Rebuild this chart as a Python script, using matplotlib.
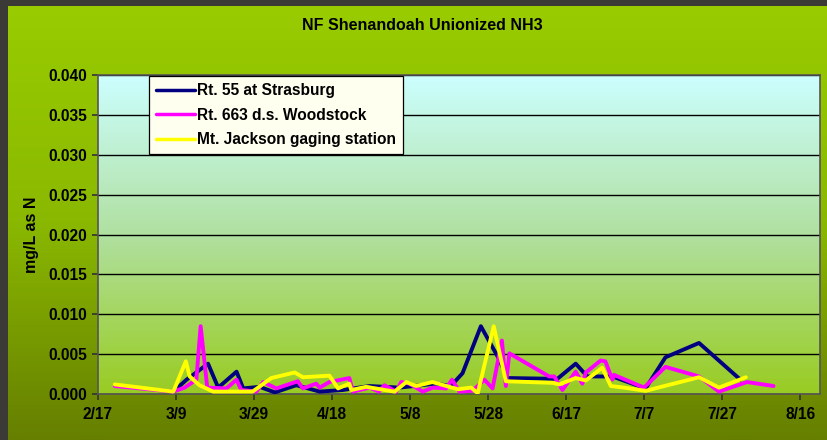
import numpy as np
import matplotlib
matplotlib.use("Agg")
import matplotlib.pyplot as plt
from matplotlib.colors import LinearSegmentedColormap

plt.rcParams['font.family'] = ['Liberation Sans', 'DejaVu Sans']
plt.rcParams['font.weight'] = 'bold'

title = "NF Shenandoah Unionized NH3"
ylabel = "mg/L as N"
tick_labels = ["2/17", "3/9", "3/29", "4/18", "5/8", "5/28", "6/17", "7/7", "7/27", "8/16"]
tick_days = [0, 20, 40, 60, 80, 100, 120, 140, 160, 180]

# days since 2/17
strasburg_days = [19.3, 22.7, 28.2, 30.8, 35.5, 37.2, 41.4, 45.3, 50.8, 56.8, 62.7, 69.6, 77.2,
                  86.6, 90.4, 93.4, 98.1, 102.4, 105.0, 117.7, 122.4, 125.4, 131.8, 140.3,
                  145.4, 154.0, 164.6]
strasburg_vals = [0.0003, 0.0018, 0.0038, 0.0008, 0.0028, 0.0007, 0.0009, 0.0002, 0.0011, 0.0003,
                  0.0005, 0.0010, 0.0008, 0.0013, 0.0010, 0.0026, 0.0085, 0.0047, 0.0020, 0.0019,
                  0.0038, 0.0022, 0.0022, 0.0007, 0.0046, 0.0064, 0.0018]

woodstock_days = [4.3, 19.3, 22.2, 25.2, 26.3, 28.0, 32.9, 35.5, 36.7, 40.6, 42.3, 45.7, 51.2,
                  52.5, 55.9, 56.8, 59.3, 64.4, 65.3, 69.6, 72.0, 73.4, 76.4, 77.7, 79.8, 83.2,
                  85.8, 89.2, 90.7, 92.6, 96.0, 99.0, 101.1, 103.5, 104.5, 105.4, 115.6, 116.9,
                  119.0, 122.4, 124.1, 125.0, 128.8, 130.0, 131.8, 132.2, 139.9, 145.4, 154.0,
                  159.1, 166.3, 173.1]
woodstock_vals = [0.0010, 0.0003, 0.0008, 0.0018, 0.0085, 0.0008, 0.0007, 0.0018, 0.0005, 0.0003,
                  0.0015, 0.0007, 0.0016, 0.0007, 0.0013, 0.0008, 0.0015, 0.0020, 0.0003, 0.0008,
                  0.0003, 0.0011, 0.0003, 0.0015, 0.0013, 0.0003, 0.0008, 0.0007, 0.0018, 0.0003,
                  0.0004, 0.0018, 0.0007, 0.0067, 0.0010, 0.0051, 0.0022, 0.0022, 0.0005, 0.0028,
                  0.0013, 0.0027, 0.0042, 0.0041, 0.0018, 0.0024, 0.0008, 0.0034, 0.0022, 0.0003,
                  0.0015, 0.0010]

jackson_days = [4.3, 19.3, 22.5, 23.5, 26.0, 29.5, 39.6, 44.4, 50.4, 52.5, 59.3, 61.5, 64.4,
                64.9, 68.7, 76.0, 79.0, 81.5, 85.7, 90.0, 92.2, 95.6, 97.3, 101.4, 104.5,
                116.5, 118.2, 122.4, 125.0, 129.2, 131.4, 134.8, 140.3, 154.0, 159.1, 166.0]
jackson_vals = [0.0012, 0.0003, 0.0041, 0.0022, 0.0011, 0.0003, 0.0003, 0.0020, 0.0027, 0.0021,
                0.0023, 0.0007, 0.0013, 0.0005, 0.0009, 0.0003, 0.0015, 0.0010, 0.0015, 0.0009,
                0.0006, 0.0008, 0.0001, 0.0085, 0.0016, 0.0014, 0.0012, 0.0020, 0.0017, 0.0033,
                0.0010, 0.0008, 0.0004, 0.0021, 0.0008, 0.0021]

series = [
    ("Rt. 55 at Strasburg", strasburg_days, strasburg_vals, "#000080"),
    ("Rt. 663 d.s. Woodstock", woodstock_days, woodstock_vals, "#FF00FF"),
    ("Mt. Jackson gaging station", jackson_days, jackson_vals, "#FFFF00"),
]

W, H = 828, 440
fig = plt.figure(figsize=(W / 100, H / 100), dpi=100)
fig.patch.set_facecolor("#3b3a36")

# green gradient background
bg = fig.add_axes([8 / W, 0, 1 - 8 / W, 1 - 6 / H], zorder=-10)
bg_cmap = LinearSegmentedColormap.from_list("bg", ["#99CC00", "#8AB800", "#667F00"])
bg.imshow(np.linspace(0, 1, 256).reshape(-1, 1), aspect="auto", cmap=bg_cmap,
          extent=[0, 1, 0, 1], origin="upper")
bg.set_axis_off()

ax = fig.add_axes([98 / W, 1 - 394 / H, (820 - 98) / W, (394 - 75) / H])
pa_cmap = LinearSegmentedColormap.from_list("pa", ["#CCFFFF", "#B0E0A0", "#99CC22"])
ax.imshow(np.linspace(0, 1, 256).reshape(-1, 1), aspect="auto", cmap=pa_cmap,
          extent=[0, 1, 0, 1], origin="upper", transform=ax.transAxes, zorder=0)

ax.set_xlim(0, 185)
ax.set_ylim(0, 0.040)
ax.set_yticks(np.arange(0, 0.0401, 0.005))
ax.set_yticklabels([f"{v:.3f}" for v in np.arange(0, 0.0401, 0.005)])
ax.set_xticks(tick_days)
ax.set_xticklabels(tick_labels)
ax.grid(axis="y", color="black", linewidth=1.0, zorder=1)
ax.set_axisbelow(True)

for name, d, v, c in series:
    ax.plot(d, v, color=c, linewidth=2.8, label=name, solid_joinstyle="round",
            solid_capstyle="round", zorder=3)

for s in ax.spines.values():
    s.set_color("#555555")
    s.set_linewidth(1.2)
ax.tick_params(axis="both", direction="out", length=4, width=1.2, color="#333333",
               labelsize=11.2, pad=4)
for lab in ax.get_xticklabels() + ax.get_yticklabels():
    lab.set_fontweight("bold")
ax.tick_params(axis="x", pad=5)

leg = ax.legend(loc="upper left", bbox_to_anchor=(0.071, 0.997), borderaxespad=0,
                frameon=True, fancybox=False, facecolor="#FFFFF0", edgecolor="black",
                prop={"weight": "bold", "size": 11.2}, handlelength=2.5, handletextpad=0.15,
                labelspacing=0.62, borderpad=0.45)
leg.get_frame().set_linewidth(0.9)
leg.get_frame().set_alpha(1)
for line in leg.get_lines():
    line.set_linewidth(2.5)

fig.text(422 / W, 1 - 26 / H, title, ha="center", va="center",
         fontsize=11.5, fontweight="bold")
fig.text(32 / W, 1 - 235 / H, ylabel, ha="center", va="center", rotation=90,
         fontsize=11.5, fontweight="bold")

fig.savefig("out.png", dpi=100, facecolor=fig.get_facecolor())
